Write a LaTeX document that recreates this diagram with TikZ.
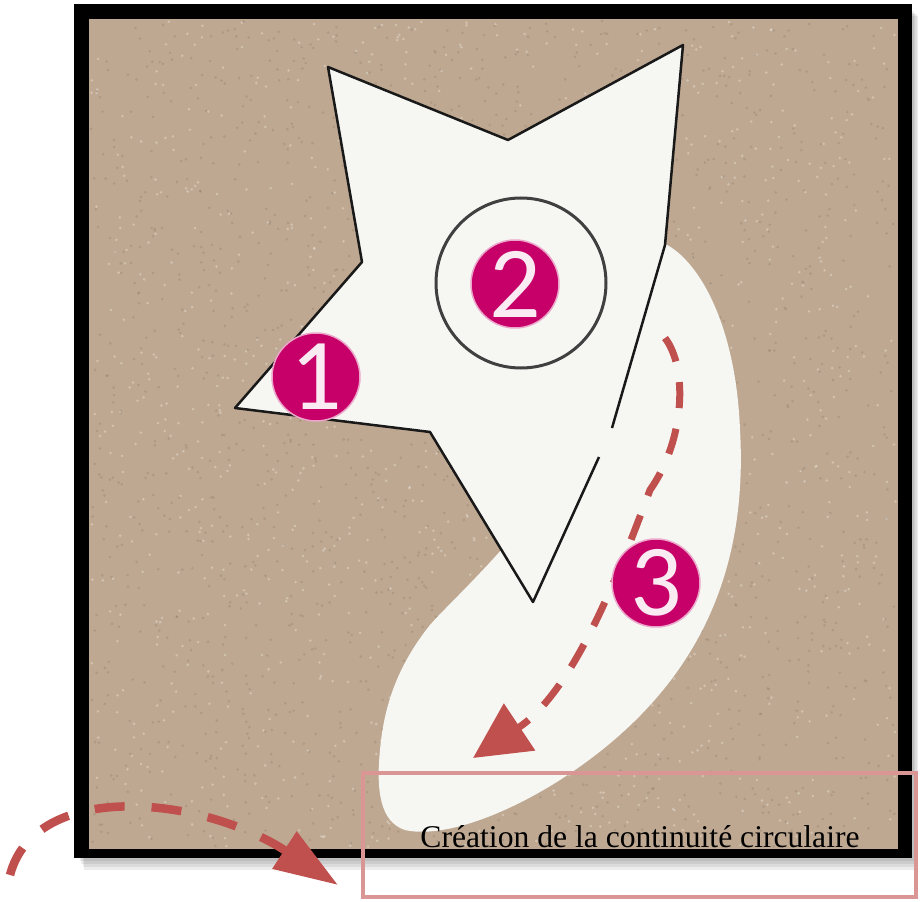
\documentclass[tikz,border=0pt]{standalone}
\usepackage{fontspec}
\setmainfont{Liberation Serif}
\newfontfamily\numfont{Carlito}
\usetikzlibrary{arrows.meta,positioning}

\definecolor{cardboard}{RGB}{190,168,145}
\definecolor{paper}{RGB}{246,246,243}
\definecolor{berry}{RGB}{198,0,104}
\definecolor{flowred}{RGB}{192,80,77}
\definecolor{boxpink}{RGB}{217,150,148}

\begin{document}
\begin{tikzpicture}[
    x=0.02cm,
    y=-0.02cm,
    outline/.style={draw=black!90, line width=0.5mm, line join=round},
    ringline/.style={draw=black!75, line width=0.6mm},
    speck/.style={fill=#1, opacity=0.3},
    numdot/.style={circle, fill=berry, draw=berry!35, line width=0.3mm, minimum size=17.6mm, inner sep=0pt,
      text=white!92!berry, font=\numfont\fontsize{58}{60}\selectfont},
    flowarrow/.style={draw=flowred, line width=1.4mm, dash pattern=on 5.2mm off 4.2mm,
      -{Triangle[length=11.2mm, width=11mm]}},
    bigflow/.style={draw=flowred, line width=1.7mm, dash pattern=on 6mm off 5.4mm,
      -{Triangle[length=12.8mm, width=8.5mm]}},
    capbox/.style={draw=boxpink, line width=0.8mm, minimum width=110.6mm, minimum height=24.8mm, inner sep=0pt},
    captext/.style={anchor=base, font=\fontsize{18}{21}\selectfont}
  ]
  \useasboundingbox (0,0) rectangle (920,902);

  %
  \foreach \s in {3,6,9,12}
    \fill[black, opacity=0.07] (78+\s/2,10+\s/2) rectangle (912+\s/2,858+\s);
  \fill[black] (74,4) rectangle (912,858);
  \fill[cardboard] (89,19) rectangle (898,849);
  \pgfmathsetseed{7}
  \foreach \i in {1,...,1800} {
    \pgfmathsetmacro{\px}{91+805*rnd}
    \pgfmathsetmacro{\py}{21+826*rnd}
    \fill[speck=cardboard!70!black] (\px,\py) circle [radius=1.4];
  }
  \foreach \i in {1,...,1200} {
    \pgfmathsetmacro{\px}{91+805*rnd}
    \pgfmathsetmacro{\py}{21+826*rnd}
    \fill[speck=white] (\px,\py) circle [radius=1.4];
  }

  %
  \fill[paper] (645,240) .. controls (680,235) and (735,300) .. (740,430)
    .. controls (748,570) and (700,690) .. (560,780)
    .. controls (500,818) and (440,838) .. (405,830)
    .. controls (380,822) and (376,790) .. (380,750)
    .. controls (384,705) and (398,665) .. (430,625)
    .. controls (460,590) and (590,480) .. (630,330) -- cycle;

  %
  \fill[paper] (328,67) -- (508,140) -- (683,45) -- (665,245) -- (612,428) -- (599,457)
    -- (533,602) -- (430,432) -- (235,408) -- (362,262) -- cycle;
  \draw[outline] (599,457) -- (533,602) -- (430,432) -- (235,408) -- (362,262) -- (328,67)
    -- (508,140) -- (683,45) -- (665,245) -- (612,428);
  \draw[ringline] (521,283) circle [radius=85];

  %
  \coordinate (flowstart) at (665,338);
  \coordinate (flowend) at (473,758);
  \draw[flowarrow] (flowstart) .. controls (688,368) and (685,440) .. (650,490)
    .. controls (620,570) and (575,690) .. (flowend);

  \node[numdot] (one) at (316,377) {1};
  \node[numdot] (two) at (515,284) {2};
  \node[numdot] (three) at (656,583) {3};

  %
  \node[capbox] (caption) at (639.5,835) {};
  \node[captext] (captiontext) at (640,847) {Création de la continuité circulaire};

  \coordinate (loopstart) at (10,875);
  \coordinate (loopend) at (338,885);
  \draw[bigflow] (loopstart) .. controls (35,780) and (200,795) .. (loopend);
\end{tikzpicture}
\end{document}
